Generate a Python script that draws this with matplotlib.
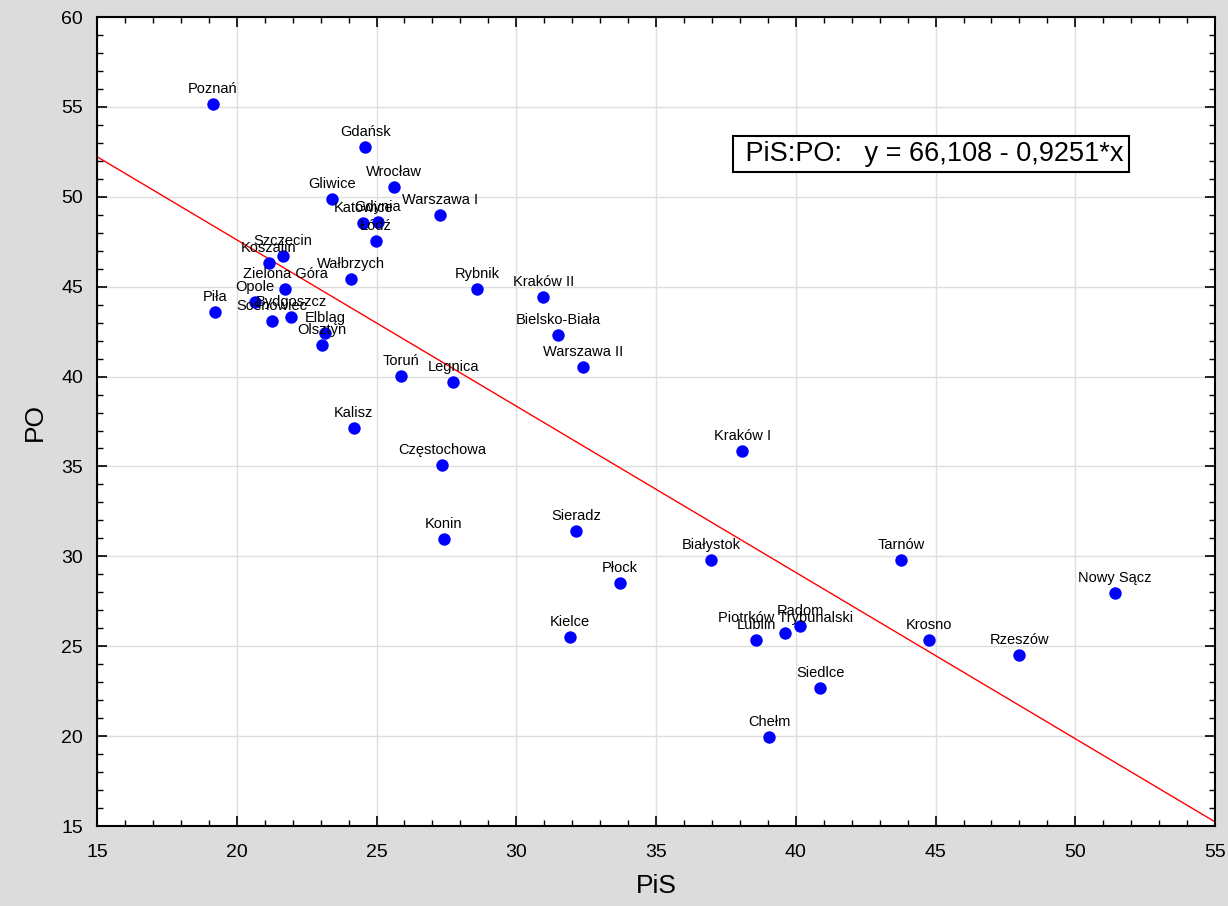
import numpy as np
import matplotlib
matplotlib.use("Agg")
import matplotlib.pyplot as plt
from matplotlib.ticker import MultipleLocator

plt.rcParams['font.family'] = ['Liberation Sans', 'DejaVu Sans']

# okregi wyborcze: PiS vs PO (%)
names = ['Poznań', 'Gdańsk', 'Wrocław', 'Gliwice', 'Warszawa I', 'Katowice',
         'Gdynia', 'Łódź', 'Szczecin', 'Koszalin', 'Wałbrzych', 'Zielona Góra',
         'Rybnik', 'Kraków II', 'Piła', 'Opole', 'Bydgoszcz', 'Sosnowiec',
         'Elbląg', 'Olsztyn', 'Bielsko-Biała', 'Warszawa II', 'Toruń', 'Legnica',
         'Kalisz', 'Kraków I', 'Częstochowa', 'Konin', 'Sieradz', 'Białystok',
         'Płock', 'Tarnów', 'Nowy Sącz', 'Kielce', 'Piotrków Trybunalski',
         'Lublin', 'Radom', 'Chełm', 'Siedlce', 'Krosno', 'Rzeszów']
pis = [19.15, 24.59, 25.63, 23.41, 27.27, 24.52,
       25.05, 24.98, 21.65, 21.15, 24.09, 21.73,
       28.60, 30.96, 19.22, 20.65, 21.94, 21.26,
       23.16, 23.05, 31.49, 32.39, 25.88, 27.74,
       24.19, 38.08, 27.34, 27.41, 32.14, 36.97,
       33.71, 43.77, 51.42, 31.92, 39.62,
       38.58, 40.15, 39.04, 40.87, 44.77, 47.99]
po = [55.16, 52.77, 50.54, 49.88, 48.99, 48.54,
      48.60, 47.55, 46.71, 46.32, 45.43, 44.87,
      44.87, 44.43, 43.59, 44.15, 43.31, 43.09,
      42.42, 41.76, 42.31, 40.53, 40.03, 39.70,
      37.14, 35.86, 35.08, 30.97, 31.41, 29.80,
      28.52, 29.80, 27.96, 25.52, 25.74,
      25.35, 26.13, 19.96, 22.68, 25.35, 24.52]

a = 66.108
b = -0.9251

fig = plt.figure(figsize=(12.28, 9.06), dpi=100, facecolor='#dcdcdc')
ax = fig.add_axes([0.079, 0.0883, 0.9105, 0.8929])
ax.set_facecolor('white')

xl = np.array([15, 55])
ax.plot(xl, a + b * xl, color='red', lw=1, zorder=2)

ax.scatter(pis, po, s=80, color='blue', zorder=3, linewidths=0)
for n, x, y in zip(names, pis, po):
    ax.annotate(n, (x, y), xytext=(0, 6), textcoords='offset points',
                ha='center', va='bottom', fontsize=10.5, zorder=4)

ax.text(0.5735, 0.8307, ' PiS:PO:   y = 66,108 - 0,9251*x', transform=ax.transAxes,
        ha='left', va='center', fontsize=19.5, zorder=5,
        bbox=dict(boxstyle='square,pad=0.2', facecolor='white', edgecolor='black', lw=1.5))

ax.set_xlim(15, 55)
ax.set_ylim(15, 60)
ax.xaxis.set_major_locator(MultipleLocator(5))
ax.xaxis.set_minor_locator(MultipleLocator(1))
ax.yaxis.set_major_locator(MultipleLocator(5))
ax.yaxis.set_minor_locator(MultipleLocator(1))
ax.grid(True, which='major', color='#dedede', lw=1, zorder=0)
ax.set_axisbelow(True)
ax.tick_params(which='both', direction='in', top=True, right=True, labelsize=14)
ax.tick_params(axis='x', pad=13)
ax.tick_params(axis='y', pad=10)
ax.tick_params(which='major', length=7, width=1.2)
ax.tick_params(which='minor', length=4, width=1)
for s in ax.spines.values():
    s.set_linewidth(1.5)

ax.set_xlabel('PiS', fontsize=19, labelpad=9)
ax.set_ylabel('PO', fontsize=19, labelpad=10)

fig.savefig('out.png', dpi=100, facecolor=fig.get_facecolor())
